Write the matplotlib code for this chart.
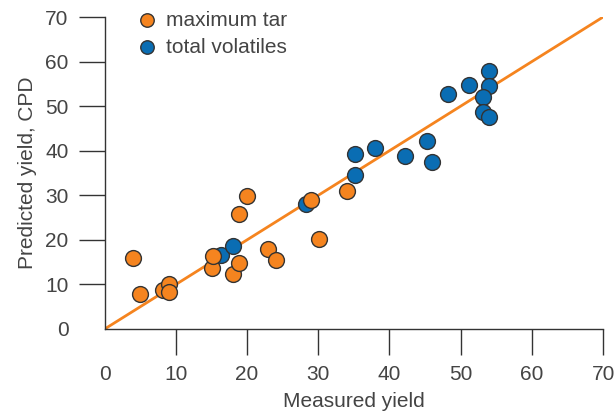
import matplotlib
matplotlib.use("Agg")
import matplotlib.pyplot as plt
import numpy as np

plt.rcParams['font.family'] = ['Liberation Sans', 'DejaVu Sans']

# maximum tar: measured vs predicted
tar_measured = [4, 5, 8.2, 9, 9, 15, 15.2, 18, 18.8, 18.8, 20, 22.9, 24, 29, 30.1, 34]
tar_predicted = [15.9, 7.9, 8.8, 10.1, 8.3, 13.7, 16.4, 12.3, 14.8, 25.8, 29.8, 17.9, 15.5, 28.9, 20.2, 31.0]

# total volatiles: measured vs predicted
vol_measured = [16.3, 18, 28.3, 35.1, 35.1, 38, 42.2, 45.3, 46, 48.2, 51.2, 54, 54, 53.1, 53.1, 54]
vol_predicted = [16.6, 18.6, 28.0, 34.6, 39.3, 40.6, 38.8, 42.2, 37.5, 52.7, 54.7, 57.9, 54.5, 52.1, 48.7, 47.6]

ticks = [0, 10, 20, 30, 40, 50, 60, 70]

orange = '#f5841f'
blue = '#0a6db3'
grey = '#444444'

fig = plt.figure(figsize=(6.16, 4.12), dpi=100)
ax = fig.add_axes([0.170, 0.2015, 0.809, 0.7572])

# parity line
ax.plot([0, 70], [0, 70], color=orange, lw=2, zorder=1)

ax.scatter(tar_measured, tar_predicted, s=130, color=orange, edgecolor='#333333',
           linewidth=1, zorder=3, label='maximum tar')
ax.scatter(vol_measured, vol_predicted, s=130, color=blue, edgecolor='#333333',
           linewidth=1, zorder=2, label='total volatiles')

ax.set_xlim(0, 70)
ax.set_ylim(0, 70)
ax.set_xticks(ticks)
ax.set_yticks(ticks)

for s in ['top', 'right']:
    ax.spines[s].set_visible(False)
for s in ['left', 'bottom']:
    ax.spines[s].set_color('#333333')
    ax.spines[s].set_linewidth(1)

ax.tick_params(direction='out', length=19, width=1, color='#333333',
               labelsize=15, labelcolor=grey, pad=7)
ax.xaxis.get_major_ticks()[0].tick1line.set_visible(False)
ax.yaxis.get_major_ticks()[0].tick1line.set_visible(False)

ax.set_xlabel('Measured yield', fontsize=15, color=grey, labelpad=6)
ax.set_ylabel('Predicted yield, CPD', fontsize=15, color=grey, labelpad=6)

leg = ax.legend(loc='upper left', bbox_to_anchor=(0.005, 1.08), frameon=False,
                fontsize=15, handletextpad=-0.1, labelspacing=0.38,
                scatterpoints=1, markerscale=0.85)
for t in leg.get_texts():
    t.set_color(grey)

fig.savefig('out.png', dpi=100)
